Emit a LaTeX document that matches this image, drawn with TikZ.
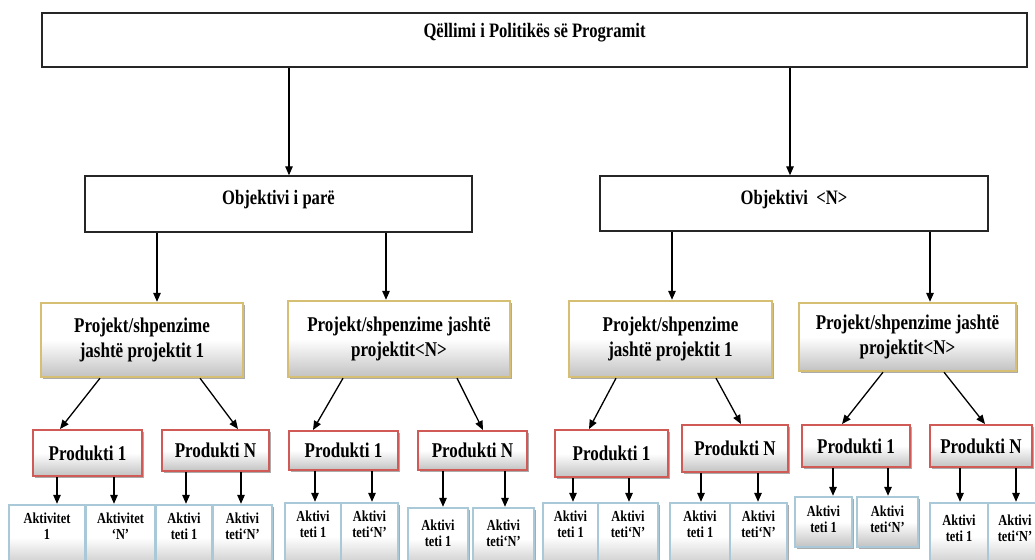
\documentclass[tikz,border=0pt]{standalone}
\usepackage{fontspec}
\setmainfont{Liberation Serif}[FakeStretch=0.81]
\usetikzlibrary{arrows.meta,shadows}
\definecolor{goldb}{HTML}{D6BE72}
\definecolor{redb}{HTML}{CF5A56}
\definecolor{blueb}{HTML}{A9C9D8}
\newcommand\conn[4]{%
  \coordinate (#1-#2-s) at (#3,0);
  \coordinate (#1-#2-e) at (#4,0);
  \draw[arr] (#1.south -| #1-#2-s) -- (#2.north -| #1-#2-e);}
\begin{document}
\begin{tikzpicture}[x=1pt,y=-1pt,
  arr/.style={line width=1.3pt, draw=black, -{Triangle[length=9pt,width=7.5pt]}},
  plainbox/.style={draw=black!85, line width=1.4pt, fill=white, inner sep=0pt},
  bigtxt/.style={font=\fontsize{20.5}{26}\selectfont\bfseries, align=center, inner sep=0pt},
  bevel/.style={top color=white, bottom color=black!24, middle color=white,
     drop shadow={shadow xshift=2pt, shadow yshift=-2pt, fill=black!55, opacity=0.6},
     inner sep=0pt, align=center},
  projbox/.style={bevel, draw=goldb, line width=2.4pt, font=\fontsize{21}{25.5}\selectfont\bfseries},
  prodbox/.style={bevel, draw=redb, line width=2pt, font=\fontsize{21}{22}\selectfont\bfseries},
  actbox/.style={bevel, draw=blueb, line width=2.4pt},
  acttxt/.style={font=\fontsize{15.3}{16}\selectfont\bfseries, align=center, inner sep=0pt, anchor=north}]
\clip (0,0) rectangle (1035,559);
\fill[white] (0,0) rectangle (1035,559);
% top
\node[plainbox, minimum width=985pt, minimum height=54pt] (T) at (534.5,40) {};
\node[bigtxt] (Tt) at ([yshift=7pt]T.center) {Qëllimi i Politikës së Programit};
% objectives
\node[plainbox, minimum width=387pt, minimum height=56pt] (O1) at (278.5,204) {};
\node[bigtxt] (O1t) at ([yshift=4pt]O1.center) {Objektivi i parë};
\node[plainbox, minimum width=388pt, minimum height=55pt] (ON) at (794,203.5) {};
\node[bigtxt] (ONt) at ([yshift=4pt]ON.center) {Objektivi\ \ <N>};
% projects
\node[projbox, minimum width=202pt, minimum height=74pt] (P1) at (142,340) {Projekt/shpenzime\\jashtë projektit 1};
\node[projbox, minimum width=222pt, minimum height=76pt] (P2) at (399,339) {Projekt/shpenzime jashtë\\projektit<N>};
\node[projbox, minimum width=203pt, minimum height=76pt] (P3) at (670.5,339) {Projekt/shpenzime\\jashtë projektit 1};
\node[projbox, minimum width=217pt, minimum height=68pt] (P4) at (907.5,337) {Projekt/shpenzime jashtë\\projektit<N>};
% products
\node[prodbox, minimum width=109pt, minimum height=46pt] (R11) at (87.5,453) {Produkti 1};
\node[prodbox, minimum width=107pt, minimum height=41pt] (R1N) at (215.5,450.5) {Produkti N};
\node[prodbox, minimum width=109pt, minimum height=39pt] (R21) at (343.5,450.5) {Produkti 1};
\node[prodbox, minimum width=109pt, minimum height=39pt] (R2N) at (472.5,450.5) {Produkti N};
\node[prodbox, minimum width=113pt, minimum height=47pt] (R31) at (611.5,453.5) {Produkti 1};
\node[prodbox, minimum width=106pt, minimum height=47pt] (R3N) at (735,448.5) {Produkti N};
\node[prodbox, minimum width=108pt, minimum height=42pt] (R41) at (856,446) {Produkti 1};
\node[prodbox, minimum width=102pt, minimum height=42pt] (R4N) at (981,446) {Produkti N};
% activities
\node[actbox, minimum width=76pt, minimum height=65pt] (A11a) at (47,537.5) {};
\node[actbox, minimum width=69pt, minimum height=65pt] (A11b) at (120.5,537.5) {};
\node[actbox, minimum width=56pt, minimum height=65pt] (A1Na) at (184,537.5) {};
\node[actbox, minimum width=59pt, minimum height=65pt] (A1Nb) at (242.5,537.5) {};
\node[actbox, minimum width=56pt, minimum height=67pt] (A21a) at (313,536.5) {};
\node[actbox, minimum width=57pt, minimum height=67pt] (A21b) at (369.5,536.5) {};
\node[actbox, minimum width=60pt, minimum height=62pt] (A2Na) at (438,539) {};
\node[actbox, minimum width=61pt, minimum height=62pt] (A2Nb) at (503.5,539) {};
\node[actbox, minimum width=55pt, minimum height=67pt] (A31a) at (570.5,536.5) {};
\node[actbox, minimum width=60pt, minimum height=67pt] (A31b) at (628,536.5) {};
\node[actbox, minimum width=60pt, minimum height=67pt] (A3Na) at (700,536.5) {};
\node[actbox, minimum width=57pt, minimum height=67pt] (A3Nb) at (758.5,536.5) {};
\node[actbox, minimum width=57pt, minimum height=50pt] (A41a) at (823.5,522) {};
\node[actbox, minimum width=61pt, minimum height=50pt] (A41b) at (887.5,522) {};
\node[actbox, minimum width=58pt, minimum height=67pt] (A4Na) at (959,536.5) {};
\node[actbox, minimum width=54pt, minimum height=67pt] (A4Nb) at (1015,536.5) {};
\node[acttxt] (A11at) at ([yshift=-9pt]A11a.north) {Aktivitet\\1};
\node[acttxt] (A11bt) at ([yshift=-9pt]A11b.north) {Aktivitet\\‘N’};
\foreach \n in {A1Na,A21a,A31a,A3Na}{\node[acttxt] (\n t) at ([yshift=-9pt]\n.north) {Aktivi\\teti 1};}
\foreach \n in {A1Nb,A21b,A31b,A3Nb}{\node[acttxt] (\n t) at ([yshift=-9pt]\n.north) {Aktivi\\teti‘N’};}
\foreach \n in {A2Na,A4Na}{\node[acttxt] (\n t) at ([yshift=-13pt]\n.north) {Aktivi\\teti 1};}
\foreach \n in {A2Nb,A4Nb}{\node[acttxt] (\n t) at ([yshift=-13pt]\n.north) {Aktivi\\teti‘N’};}
\node[acttxt] (A41at) at ([yshift=-10pt]A41a.north) {Aktivi\\teti 1};
\node[acttxt] (A41bt) at ([yshift=-10pt]A41b.north) {Aktivi\\teti‘N’};
% connectors
\conn{T}{O1}{289}{289}
\conn{T}{ON}{790}{790}
\conn{O1}{P1}{157}{157}
\conn{O1}{P2}{386}{386}
\conn{ON}{P3}{672}{672}
\conn{ON}{P4}{930}{930}
\conn{P1}{R11}{100}{60}
\conn{P1}{R1N}{200}{238}
\conn{P2}{R21}{343}{313}
\conn{P2}{R2N}{457}{483}
\conn{P3}{R31}{616}{589}
\conn{P3}{R3N}{716}{741}
\conn{P4}{R41}{883}{842}
\conn{P4}{R4N}{944}{985}
\conn{R11}{A11a}{57}{57}
\conn{R11}{A11b}{114}{114}
\conn{R1N}{A1Na}{186}{186}
\conn{R1N}{A1Nb}{241}{241}
\conn{R21}{A21a}{315}{315}
\conn{R21}{A21b}{372}{372}
\conn{R2N}{A2Na}{443}{443}
\conn{R2N}{A2Nb}{505}{505}
\conn{R31}{A31a}{573}{573}
\conn{R31}{A31b}{629}{629}
\conn{R3N}{A3Na}{701}{701}
\conn{R3N}{A3Nb}{758}{758}
\conn{R41}{A41a}{833}{833}
\conn{R41}{A41b}{888}{888}
\conn{R4N}{A4Na}{960}{960}
\conn{R4N}{A4Nb}{1016}{1016}
\end{tikzpicture}
\end{document}
